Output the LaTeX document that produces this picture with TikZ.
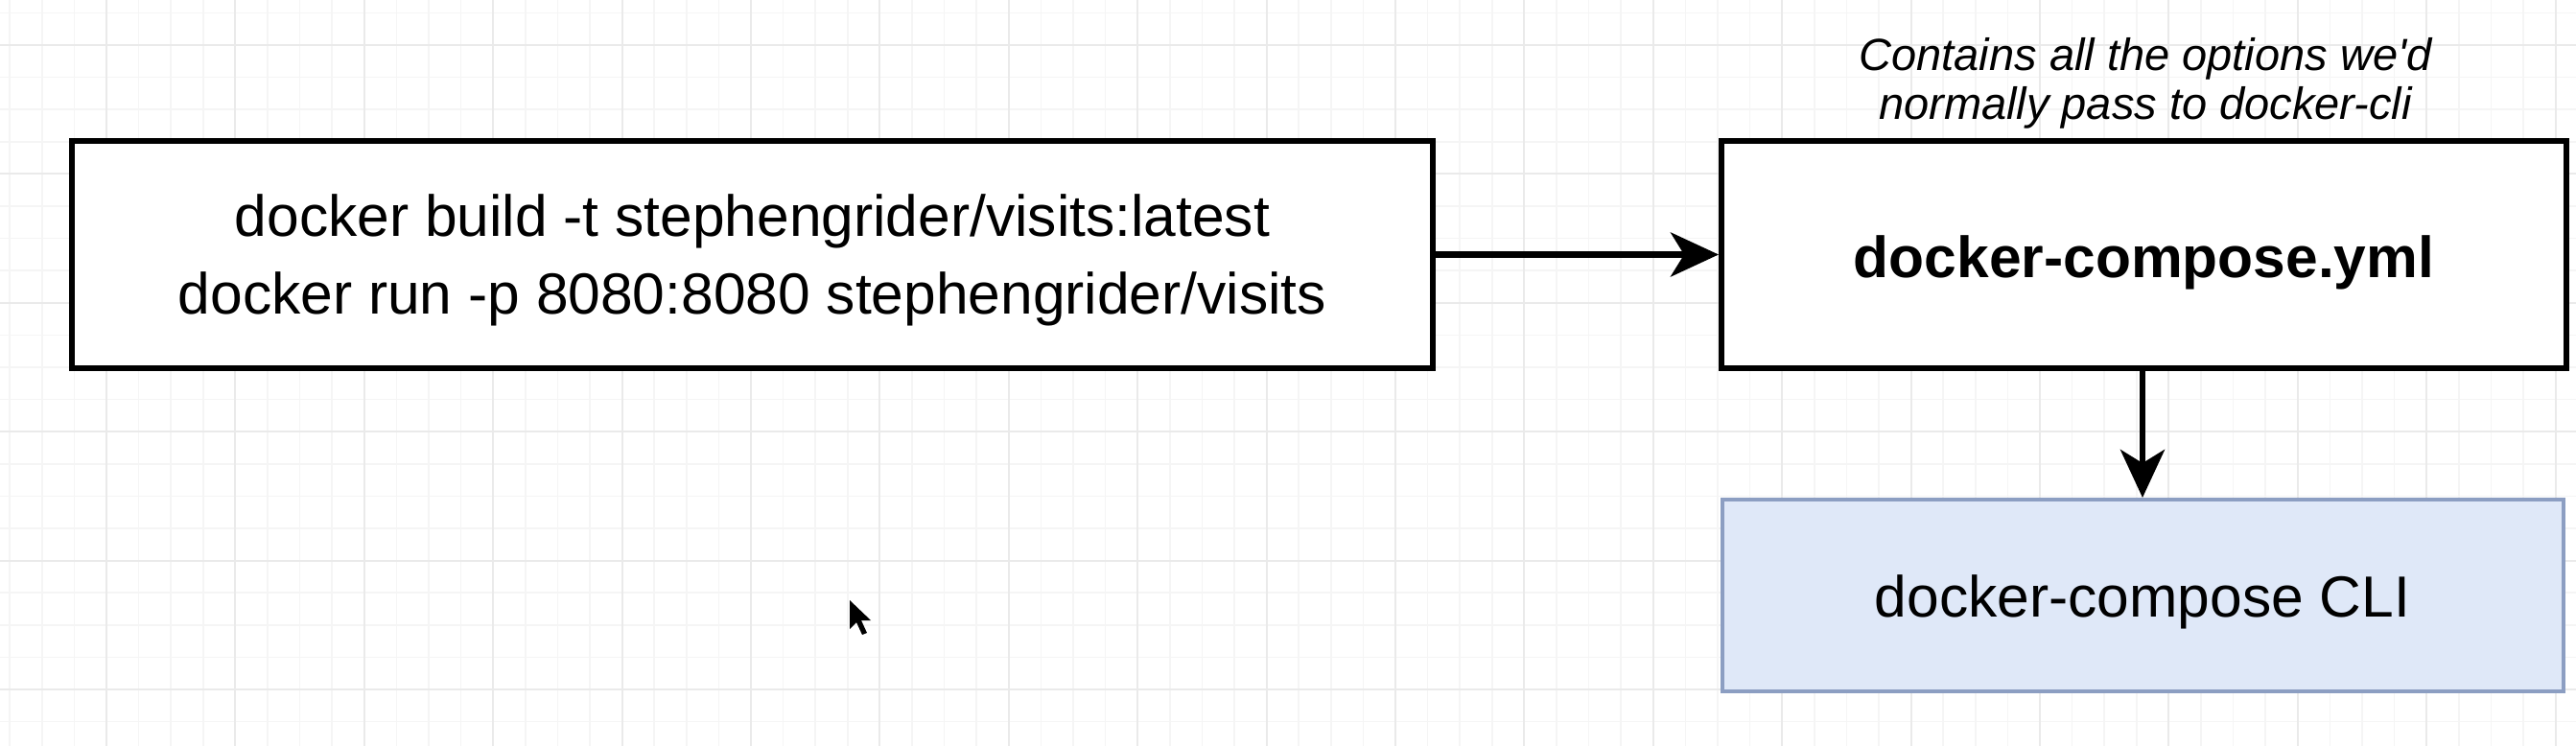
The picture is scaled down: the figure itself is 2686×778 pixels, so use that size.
\documentclass[tikz,border=0pt]{standalone}
\usepackage{fontspec}
\setmainfont{Liberation Sans}
\usetikzlibrary{arrows.meta}
\definecolor{gridminor}{HTML}{F5F5F5}
\definecolor{gridmajor}{HTML}{EAEAEA}
\definecolor{clifill}{HTML}{DFE8F8}
\definecolor{cliborder}{HTML}{8C9EC2}
\tikzset{
  plainbox/.style={draw=black, line width=6pt, fill=white, rectangle},
  clibox/.style={draw=cliborder, line width=4pt, fill=clifill, rectangle},
  boxtext/.style={align=center, yshift=-6pt, font=\fontsize{60.5}{81}\selectfont},
  conn/.style={line width=6.5pt, -{Stealth[length=50pt, width=46pt, inset=14pt]}},
  note/.style={align=center, font=\fontsize{47}{51}\selectfont\itshape}
}
\begin{document}
\begin{tikzpicture}[x=1pt, y=-1pt]
\useasboundingbox (0,0) rectangle (2686,778);
\fill[white] (0,0) rectangle (2686,778);
% minor grid
\foreach \i in {0,...,80} {
  \draw[gridminor, line width=1.5pt] ({10.2+\i*33.6},0) -- ({10.2+\i*33.6},778);
}
\foreach \j in {0,...,24} {
  \draw[gridminor, line width=1.5pt] (0,{13.4+\j*33.6}) -- (2686,{13.4+\j*33.6});
}
% major grid
\foreach \i in {0,...,20} {
  \draw[gridmajor, line width=2pt] ({111+\i*134.4},0) -- ({111+\i*134.4},778);
}
\foreach \j in {0,...,6} {
  \draw[gridmajor, line width=2pt] (0,{47+\j*134.4}) -- (2686,{47+\j*134.4});
}

\node[plainbox, minimum width=1419pt, minimum height=237pt,
  label={[boxtext]center:docker build -t stephengrider/visits:latest\\docker run -p 8080:8080 stephengrider/visits}] (cmds) at (784.5,265.5) {};
\node[plainbox, minimum width=881pt, minimum height=237pt,
  label={[boxtext, yshift=-2pt, font=\fontsize{60.5}{81}\selectfont\bfseries]center:docker-compose.yml}] (yml) at (2235.5,265.5) {};
\node[clibox, minimum width=877pt, minimum height=200pt,
  label={[boxtext, yshift=-1pt]center:docker-compose CLI}] (cli) at (2234,621) {};
\node[note] (ann) at (2237,87) {Contains all the options we\textquotesingle d\\normally pass to docker-cli};

\draw[conn] (cmds.east) -- (yml.west);
\draw[conn] (cli.north |- yml.south) -- (cli.north);

% mouse pointer
\fill[black] (886,626) -- (886,656) -- (893,649) -- (899,662) -- (904,660) -- (898,647) -- (908,647) -- cycle;
\end{tikzpicture}
\end{document}
